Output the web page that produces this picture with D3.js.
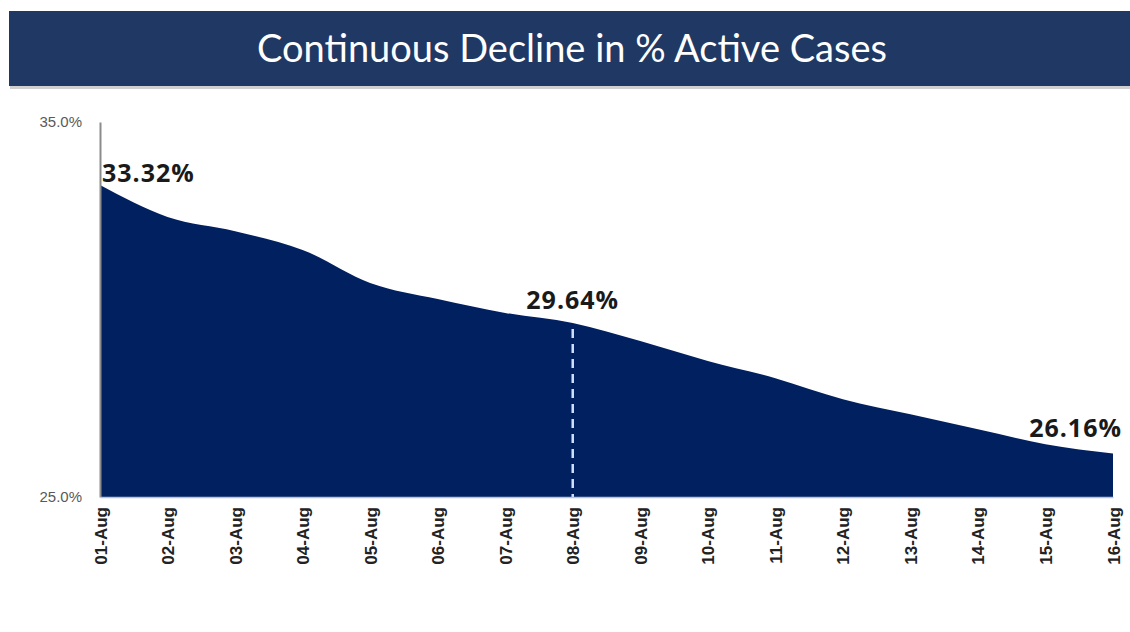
<!DOCTYPE html>
<html><head><meta charset="utf-8">
<script src="https://cdn.jsdelivr.net/npm/d3@7"></script>
<style>html,body{margin:0;padding:0;background:#fff;}svg{display:block;}</style>
</head><body>
<svg id="c" width="1130" height="632"></svg>
<script>
const dates = ["01-Aug","02-Aug","03-Aug","04-Aug","05-Aug","06-Aug","07-Aug","08-Aug","09-Aug","10-Aug","11-Aug","12-Aug","13-Aug","14-Aug","15-Aug","16-Aug"];
const activePct = [33.32,32.47,32.09,31.59,30.71,30.28,29.91,29.64,29.16,28.63,28.17,27.61,27.21,26.81,26.41,26.16];
const yTicks = [25, 35];
const labelled = [0, 7, 15];
const title = "Continuous Decline in % Active Cases";

const svg = d3.select("#c");
const W = 1130, H = 632;
const m = {left:100, right:17, top:122, bottom:135};

// title bar
svg.append("rect").attr("x",10).attr("y",13).attr("width",1120).attr("height",76).attr("fill","#777").attr("opacity",0.35);
svg.append("rect").attr("x",9).attr("y",11).attr("width",1121).attr("height",75).attr("fill","#1f3864");
svg.append("text").attr("x",572).attr("y",62).attr("text-anchor","middle")
  .attr("font-family","Lato, 'Open Sans', sans-serif").attr("font-size",38).attr("fill","#fff")
  .text(title);

const x = d3.scalePoint().domain(dates).range([m.left, W - m.right]);
const y = d3.scaleLinear().domain([25, 35]).range([H - m.bottom, m.top]);

const data = dates.map((d,i)=>({d, v: activePct[i]}));

const area = d3.area().x(p=>x(p.d)).y0(y(25)).y1(p=>y(p.v)).curve(d3.curveMonotoneX);
svg.append("path").datum(data).attr("d", area).attr("fill","#002060");

// dashed line at 08-Aug
svg.append("line").attr("x1",x(dates[7])).attr("x2",x(dates[7]))
  .attr("y1",y(activePct[7])+6).attr("y2",y(25))
  .attr("stroke","#cfe0ff").attr("stroke-width",2.5).attr("stroke-dasharray","9,6");

// y axis
const ya = svg.append("g").attr("transform",`translate(${m.left},0)`)
  .call(d3.axisLeft(y).tickValues(yTicks).tickSize(0).tickPadding(18).tickFormat(d=>d.toFixed(1)+"%"));
ya.select(".domain").attr("stroke","#8c8c8c").attr("stroke-width",2);
ya.selectAll("text").attr("font-family","'Liberation Sans', Arial, sans-serif").attr("font-size",15).attr("fill","#595959");

// x axis
const xa = svg.append("g").attr("transform",`translate(0,${y(25)})`)
  .call(d3.axisBottom(x).tickSize(0).tickPadding(0));
xa.select(".domain").attr("stroke","#b4c4dc").attr("stroke-width",1.5);
xa.selectAll("text")
  .attr("font-family","'Liberation Sans', Arial, sans-serif").attr("font-size",17).attr("font-weight","bold").attr("fill","#222")
  .attr("text-anchor","end").attr("dy",null)
  .attr("transform","translate(0,10) rotate(-90)").attr("x",0).attr("y",6);

// value labels
const lbl = svg.append("g").attr("font-family","'Open Sans', 'Liberation Sans', sans-serif").attr("font-weight","bold").attr("font-size",25).attr("letter-spacing",1).attr("fill","#1a1a1a");
labelled.forEach(i=>{
  const t = lbl.append("text").text(activePct[i].toFixed(2)+"%");
  if(i===0){ t.attr("x",x(dates[i])+2).attr("y",y(activePct[i])-3).attr("text-anchor","start"); }
  else if(i===dates.length-1){ t.attr("x",x(dates[i])+9).attr("y",y(activePct[i])-17).attr("text-anchor","end"); }
  else { t.attr("x",x(dates[i])).attr("y",y(activePct[i])-14).attr("text-anchor","middle"); }
});
</script>
</body></html>
